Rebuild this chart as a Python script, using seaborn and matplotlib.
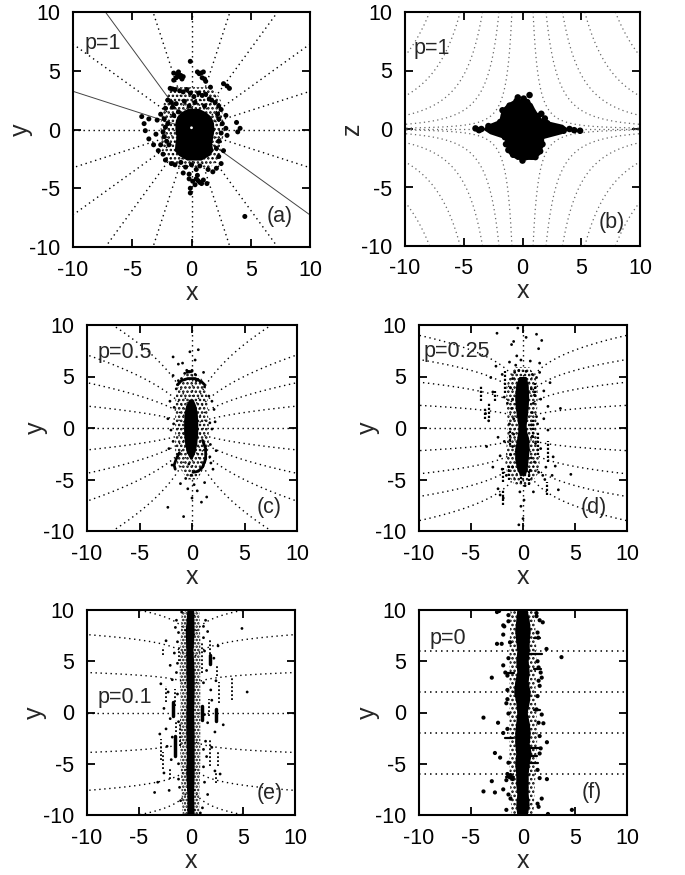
import numpy as np
import matplotlib
matplotlib.use("Agg")
import matplotlib.pyplot as plt
import seaborn as sns
import pandas as pd

sns.set_theme(style="ticks")
plt.rcParams['font.family'] = ['Liberation Sans', 'DejaVu Sans']
plt.rcParams['hatch.linewidth'] = 1.2

# ---------------- data ----------------
TICKS = [-10, -5, 0, 5, 10]
TICK_LABELS = ["-10", "-5", "0", "5", "10"]

PANEL_TAGS = ["(a)", "(b)", "(c)", "(d)", "(e)", "(f)"]
P_LABELS = ["p=1", "p=1", "p=0.5", "p=0.25", "p=0.1", "p=0"]
Y_NAMES = ["y", "z", "y", "y", "y", "y"]

# field-line heights where each line meets |x|=10 (seeded every 18 degrees)
A_P, A_Y10 = 1.0, [3.25, 7.27, 13.76, 30.8]
C_P, C_Y10 = 0.5, [2.13, 4.4, 7.1, 11.5]
D_P, D_Y10 = 0.25, [2.2, 4.45, 6.65, 9.0]
E_P, E_Y10 = 0.1, [3.9, 7.6, 10.7, 13.4]
F_Y = [-6.0, -2.0, 2.0, 6.0]
# x-z plane: |x| where each line meets |z|=10
B_XTOP = [0.9, 2.0, 3.4, 5.3, 7.9]
# rays of panel (a) that are drawn as thin solid lines: (sign x, sign y, index)
A_SOLID = [(-1, 1, 2), (-1, 1, 0), (1, -1, 1)]

# dense cores (y rows, left edge, right edge)
A_CORE_Y = [1.8, 1.5, 1.1, 0.6, 0.0, -0.6, -1.2, -1.8, -2.2, -2.6]
A_CORE_L = [-0.3, -0.9, -1.25, -1.4, -1.4, -1.3, -1.4, -1.45, -1.1, -0.4]
A_CORE_R = [0.6, 1.2, 1.65, 1.85, 1.9, 1.8, 1.7, 1.8, 1.5, 0.8]
A_HOLE = [(0.0, 0.15)]
A_HALO_Y = [3.6, 3.0, 2.4, 1.5, 0.5, -0.5, -1.5, -2.5, -3.2]
A_HALO_L = [-1.6, -2.0, -2.3, -2.5, -2.6, -2.6, -2.5, -2.2, -1.4]
A_HALO_R = [1.6, 2.2, 2.5, 2.6, 2.7, 2.7, 2.5, 2.3, 1.6]

B_CORE_Z = [2.6, 2.2, 1.8, 1.3, 0.8, 0.4, 0.0, -0.4, -0.8, -1.3, -1.8, -2.2, -2.6]
B_CORE_L = [-0.6, -1.3, -1.7, -1.9, -2.0, -3.0, -3.4, -2.8, -1.6, -1.4, -1.4, -1.1, -0.5]
B_CORE_R = [0.3, 0.8, 1.0, 1.3, 1.7, 3.4, 3.9, 3.3, 1.8, 1.8, 1.6, 1.4, 1.0]

C_CORE_Y = [2.8, 2.2, 1.5, 0.5, -0.5, -1.5, -2.3, -3.0]
C_CORE_L = [-0.3, -0.6, -0.75, -0.8, -0.8, -0.7, -0.55, -0.2]
C_CORE_R = [0.1, 0.35, 0.5, 0.55, 0.55, 0.45, 0.3, 0.0]
C_HALO_Y = [5.3, 4.5, 3.5, 2.5, 1.5, 0.5, -0.5, -1.5, -2.5, -3.5, -4.3, -5.0]
C_HALO_L = [-0.6, -1.2, -1.5, -1.6, -1.6, -1.6, -1.6, -1.6, -1.6, -1.4, -0.9, -0.4]
C_HALO_R = [0.5, 1.1, 1.4, 1.5, 1.5, 1.6, 1.6, 1.6, 1.5, 1.3, 0.9, 0.5]

D_CORE_Y = [5.0, 4.2, 3.0, 2.0, 1.0, 0.3, -0.3, -1.0, -2.0, -3.0, -4.0, -4.6]
D_CORE_L = [-0.4, -0.7, -0.8, -0.75, -0.6, -0.5, -0.5, -0.6, -0.8, -0.8, -0.6, -0.3]
D_CORE_R = [0.3, 0.5, 0.55, 0.5, 0.4, 0.3, 0.35, 0.55, 0.6, 0.5, 0.4, 0.2]
D_HALO_Y = [5.9, 5.0, 4.0, 2.5, 1.0, -0.5, -2.0, -3.5, -4.5, -5.5]
D_HALO_L = [-0.8, -1.3, -1.6, -1.6, -1.5, -1.5, -1.6, -1.7, -1.5, -0.8]
D_HALO_R = [0.6, 1.2, 1.4, 1.4, 1.3, 1.3, 1.5, 1.6, 1.4, 0.7]

E_CORE_Y = [10, 8, 6, 4, 2, 0, -2, -4, -6, -8, -10]
E_CORE_L = [-0.4, -0.55, -0.5, -0.5, -0.45, -0.5, -0.5, -0.45, -0.5, -0.4, -0.4]
E_CORE_R = [0.25, 0.3, 0.2, 0.3, 0.3, 0.25, 0.3, 0.3, 0.3, 0.25, 0.3]
E_HALO_Y = [10, 7, 4, 1, -2, -5, -8, -10]
E_HALO_L = [-0.9, -1.0, -1.1, -1.0, -1.1, -1.0, -0.9, -0.8]
E_HALO_R = [0.8, 0.9, 0.9, 0.9, 0.9, 0.9, 0.8, 0.8]

F_CORE_Y = [10, 9, 8, 7, 6, 5, 4, 3, 2, 1, 0, -1, -2, -3, -4, -5, -6, -7, -8, -9, -10]
F_CORE_L = [-0.6, -0.7, -0.8, -0.7, -0.6, -0.7, -0.6, -0.8, -0.9, -0.7, -0.6,
            -0.7, -0.8, -0.8, -0.7, -0.8, -0.7, -0.7, -0.6, -0.7, -0.6]
F_CORE_R = [0.4, 0.6, 0.7, 0.6, 0.6, 0.5, 0.6, 0.5, 0.7, 0.6, 0.4,
            0.6, 0.7, 0.6, 0.8, 0.6, 0.5, 0.5, 0.5, 0.6, 0.4]
F_HALO_Y = [10, 6, 2, -2, -6, -10]
F_HALO_L = [-1.2, -1.3, -1.3, -1.3, -1.3, -1.1]
F_HALO_R = [1.1, 1.3, 1.2, 1.4, 1.2, 1.0]

# scattered particles
A_DOTS = [(-1.5, 4.8), (-1.2, 4.7), (-0.9, 4.6), (-1.3, 4.4), (-0.7, 4.5), (-1.5, 4.2),
          (-1.1, 4.9), (-0.8, 4.3), (-1.0, 4.5), (0.5, 4.9), (0.8, 4.8), (1.0, 4.9),
          (0.65, 4.75), (-0.1, 5.8), (0.9, 4.4), (1.2, 4.1), (1.1, 4.3), (2.7, 3.9),
          (3.0, 3.7), (3.2, 3.5), (1.6, 3.6), (-1.8, 3.5), (-1.4, 3.4), (-1.6, 3.45),
          (-1.0, 3.3), (-0.7, 3.2), (-0.4, 3.4), (-0.1, 3.1), (0.2, 2.8), (0.6, 3.1),
          (0.9, 2.9), (1.2, 3.0), (1.5, 2.6), (1.7, 2.5), (-2.0, 2.5), (-1.7, 2.3),
          (-1.3, 2.2), (-0.6, 2.4), (0.3, 2.3), (2.0, 2.3), (2.3, 2.0), (2.5, 1.7),
          (-2.2, 1.8), (-1.6, 1.9), (-4.2, 1.1), (-4.0, 0.5), (-3.9, -0.1), (-3.6, -0.8),
          (-3.6, 0.9), (-2.6, 1.3), (-2.3, 0.9), (-2.0, 0.5), (-2.2, 0.2), (-2.4, -0.2),
          (-2.3, -0.6), (-2.1, -1.0), (-1.9, -1.3), (-3.0, -0.4), (-3.2, -1.3), (-2.8, -1.8),
          (-2.4, -2.1), (-2.2, -2.6), (-1.7, -2.9), (-1.4, -3.0), (2.3, 0.9), (2.6, 0.5),
          (2.9, 0.1), (2.5, -0.3), (3.0, -0.5), (2.3, -1.0), (3.8, 0.6), (4.1, 0.1),
          (3.9, -0.2), (2.1, -1.6), (2.3, -2.3), (2.5, -2.9), (2.1, -3.3), (1.8, -3.6),
          (-0.9, -2.8), (-0.5, -3.2), (0.0, -3.0), (0.4, -3.4), (0.7, -3.1), (-0.7, -3.7),
          (-0.2, -3.8), (0.5, -3.9), (1.4, -3.4), (-0.2, -4.2), (0.1, -4.4), (0.4, -4.2),
          (0.7, -4.5), (1.0, -4.3), (1.3, -4.6), (0.3, -4.7), (0.55, -4.35), (0.85, -4.6),
          (-0.1, -5.0), (-0.1, -5.4), (4.5, -7.4), (-1.1, 1.5), (-1.5, 1.2), (2.2, 1.3),
          (1.1, 2.0), (-0.2, 2.0), (-2.6, -1.3), (2.7, -1.8), (-2.9, 0.8), (2.9, 1.2)]

B_DOTS = [(-0.5, 2.4), (0.1, 2.6), (0.4, 2.3), (0.6, 2.9), (-1.1, 2.0), (-0.8, 1.7),
          (-1.5, 1.3), (-1.2, 0.9), (0.9, 1.2), (1.3, 1.1), (1.6, 1.3), (1.9, 0.9),
          (-4.0, 0.05), (-3.7, -0.1), (-3.5, 0.0), (-2.9, 0.25), (-2.5, 0.1), (-2.1, -0.1),
          (2.4, 0.25), (3.0, 0.1), (3.5, -0.15), (4.0, 0.0), (4.4, -0.1), (4.9, -0.15),
          (-1.5, -0.7), (-1.4, -1.3), (-1.2, -1.8), (1.6, -0.7), (1.7, -1.3), (1.5, -1.9),
          (-0.3, -2.1), (0.3, -2.4), (0.8, -2.35), (1.1, -2.4), (1.3, -2.0), (-0.8, -2.2),
          (-1.7, 1.6), (-1.9, 0.6), (2.1, 0.5), (0.0, -2.7), (-0.4, 2.7)]

C_DOTS = [(-0.5, 5.6), (-0.3, 5.5), (0.0, 5.6), (-0.7, 5.3), (0.3, 5.2), (-1.0, 4.8),
          (-1.3, 4.6), (0.4, 4.6), (0.8, 4.5), (1.2, 4.0), (-1.5, 3.8), (1.6, 3.1),
          (1.9, 2.6), (-1.7, 2.0), (1.7, 0.5), (-1.75, 0.4), (-1.8, -1.3), (1.75, -1.6),
          (1.7, -2.8), (-0.3, -3.5), (1.8, -3.4), (2.0, -4.0), (-1.9, -3.6), (-0.1, -4.6),
          (0.2, -5.5), (-0.4, -5.9), (0.5, -6.1), (1.4, -6.7), (-2.3, -7.7), (0.9, -7.2),
          (-0.6, -4.9), (1.9, -0.1), (2.2, 0.6), (-2.0, -0.2), (-2.3, 0.9), (0.6, 7.6),
          (-1.8, 6.9), (-0.9, 6.3), (-1.3, 6.2), (0.3, 6.6), (-0.2, 7.4), (1.1, 5.4),
          (-1.8, 5.1), (2.1, 1.8), (-2.1, 2.6), (2.3, -2.2), (-2.2, -2.0), (1.2, -5.3),
          (-1.1, -5.4), (0.0, -6.8), (-0.8, -8.6)]
C_ARCS = [[(-1.4, 4.2), (-1.0, 4.6), (-0.4, 4.8), (0.3, 4.8), (0.9, 4.5), (1.2, 4.2)],
          [(-1.2, -2.4), (-1.5, -3.0), (-1.7, -3.6), (-1.6, -4.0)],
          [(0.1, -4.3), (0.6, -4.2), (1.0, -3.8), (1.3, -3.0), (1.3, -2.0), (1.0, -1.2)],
          [(-0.5, 5.4), (0.0, 5.5)]]

D_DOTS = [(-1.0, 4.8), (-0.8, 5.4), (-0.4, 5.6), (0.3, 5.5), (0.9, 5.2), (1.3, 4.9),
          (1.6, 5.4), (-1.2, 3.9), (0.8, 3.8), (1.1, 3.2), (-1.0, 2.8), (1.0, 2.4),
          (-1.1, 1.9), (0.9, 1.5), (1.3, 1.1), (-0.9, 0.9), (-1.3, 0.4), (0.8, 0.3),
          (-0.9, -0.6), (0.9, -0.8), (1.2, -1.5), (-1.0, -1.8), (-1.2, -2.6), (0.8, -2.9),
          (1.1, -3.3), (-1.0, -3.8), (0.7, -4.1), (1.5, -4.3), (-1.6, -4.6), (0.2, -5.6),
          (-0.3, -6.2), (0.1, -7.0), (-0.2, -7.6), (1.0, -6.2), (-1.9, -6.8), (-2.4, -5.9),
          (-2.2, -6.5), (2.1, -5.0), (2.8, -4.6), (3.1, -3.7), (4.6, -4.5), (3.4, -6.0),
          (2.4, -0.2), (2.0, 0.9), (2.4, 2.1), (2.0, 3.6), (2.6, 4.4), (1.6, 6.3),
          (1.5, 7.7), (-1.1, 8.1), (-2.5, 9.2), (0.3, 8.8), (-0.6, 7.0), (-1.3, 6.4),
          (-2.6, 6.0), (-2.0, 5.2), (-3.1, 4.9), (-2.9, 3.5), (-3.6, 1.4), (-3.3, 0.7),
          (-2.4, -0.9), (-3.5, -1.8), (-2.2, -2.7), (-2.9, -3.8), (-1.8, -1.3), (1.7, -2.0),
          (2.9, -2.8), (3.6, 1.9), (-0.5, 9.7), (0.0, -8.8), (-0.4, -9.4), (1.8, 8.5),
          (1.3, 9.1), (-0.9, 8.4), (0.7, 6.5), (-0.7, 6.1), (-1.5, 2.4), (1.4, 0.4),
          (2.2, -3.8), (1.9, -4.6), (-2.0, -4.0), (-1.8, 3.0), (1.7, 2.8), (-0.2, 6.6)]
D_STREAKS = [(-1.74, 3.4, 5.5), (-4.0, 2.6, 4.2), (-3.3, 1.0, 2.5), (-3.66, 0.9, 2.0),
             (-1.25, -1.65, 0.0), (1.48, -2.6, -0.35), (2.44, -3.3, -1.3), (1.0, -1.0, 1.0),
             (-1.9, -5.2, -3.9), (-1.3, -5.0, -3.6), (-0.2, -5.3, -4.0), (0.6, -5.5, -4.2),
             (2.3, -6.5, -5.2), (-1.9, -7.5, -5.9), (1.2, 3.0, 4.4), (-2.7, 2.6, 3.6)]

E_DOTS = [(-1.4, 9.0), (1.4, 9.0), (-1.5, 8.3), (1.6, 7.9), (-1.3, 6.9), (1.3, 6.0),
          (-1.6, 5.8), (2.2, 5.3), (-2.0, 4.6), (1.5, 4.1), (-1.4, 3.9), (2.4, 3.1),
          (-1.8, 3.2), (1.9, 2.2), (-2.2, 2.0), (2.0, 1.2), (-1.3, 1.8), (-2.6, 0.4),
          (1.3, -0.2), (-2.0, -0.6), (1.6, -1.0), (-2.4, -1.6), (2.3, -1.9), (-1.8, -2.4),
          (1.4, -2.8), (-2.3, -3.3), (2.0, -3.4), (-1.9, -4.6), (1.5, -4.3), (-2.6, -5.9),
          (2.3, -5.7), (-1.2, -6.5), (1.3, -6.8), (-2.1, -7.6), (-3.5, -7.8), (1.6, -8.0),
          (-1.0, -8.6), (1.1, -9.3), (4.9, 8.2), (5.4, 2.0), (-3.2, -6.8), (2.8, -6.0),
          (-1.2, 7.8), (1.2, 7.3), (-1.3, 4.8), (1.2, 2.9), (-1.2, -0.9), (1.2, -3.6),
          (-1.2, -5.0), (1.2, -5.3), (-1.1, -7.3), (1.2, 8.4), (-2.4, 7.0), (2.6, 6.5),
          (-2.9, 2.8), (3.1, -1.2), (-3.0, -2.1), (0.9, -9.8), (-0.9, 9.8)]
E_STREAKS = [(1.83, 4.9, 7.1), (1.1, 3.9, 6.8), (2.5, 3.6, 4.5), (-1.55, 0.6, 2.3),
             (-2.4, 1.0, 2.6), (-1.4, -1.9, -0.7), (-1.1, -3.3, -1.0), (-2.7, -5.5, -3.9),
             (-2.9, -4.6, -2.6), (1.7, -0.3, 1.3), (1.8, -5.2, -2.6), (2.6, -5.2, -3.9),
             (2.4, -6.9, -5.9), (-2.0, -6.5, -5.5), (3.9, 1.2, 3.5), (-1.2, 5.0, 6.6),
             (-2.7, 5.6, 6.4), (2.7, 0.9, 3.0)]
E_BARS = [(1.83, 4.7, 5.6), (-1.75, -0.35, 1.0), (-1.55, -4.2, -2.3), (2.4, -0.8, 0.3),
          (1.1, -0.7, 0.6)]

F_DOTS = [(-2.5, 9.8), (-2.3, 9.9), (-1.9, 8.5), (-1.8, 8.4), (-1.9, 7.6), (-2.5, 6.7),
          (-2.05, 6.7), (-1.25, 6.85), (1.3, 9.4), (1.9, 8.8), (1.6, 9.0), (1.47, 7.3),
          (2.26, 6.2), (1.5, 4.4), (1.7, 3.9), (1.8, 3.4), (1.6, 2.6),
          (3.7, 5.4), (-1.9, 4.6), (-3.0, 3.4), (-1.6, 0.9), (-1.4, -0.1), (-3.8, -0.5),
          (-2.4, -1.0), (-1.9, -2.0), (-2.7, -3.95), (-2.2, -4.4), (-1.3, -6.3), (-1.0, -6.5),
          (-1.5, -6.0), (-3.0, -6.7), (-1.9, -7.5), (-1.2, -8.4), (-2.7, -7.8), (-3.8, -7.7),
          (-1.6, -9.5), (1.5, -1.0), (1.96, -1.05), (1.3, 0.3), (1.8, -0.2), (2.3, -6.5),
          (1.6, -6.4), (1.8, -8.4), (1.5, -9.2), (2.4, -9.9), (1.6, -2.3),
          (2.3, -2.9), (4.7, -9.5), (-1.5, 2.2), (-1.4, 5.3), (1.4, 5.0), (1.4, 7.8),
          (-1.4, 8.9), (1.4, -5.6), (-1.4, -4.9), (1.4, 1.6), (-1.5, 1.3), (1.4, -8.9),
          (-1.4, -8.0), (1.3, 9.7), (-1.4, 9.5), (1.5, 3.1), (-1.5, -1.6), (-1.6, -6.6),
          (-1.2, -6.1), (-1.7, 3.9), (-1.5, 3.6), (1.6, -4.0), (1.7, -3.5)]
F_DASHES = [(5.7, 0.6, 1.8), (-3.5, 0.6, 1.6), (-4.2, 0.6, 1.3), (-4.9, 0.6, 1.4),
            (3.9, -1.6, -0.9), (-2.5, -1.7, -1.0), (-6.3, -1.6, -0.9), (7.3, 1.1, 1.6),
            (4.2, 1.1, 1.7), (0.2, 1.1, 1.6)]

# panel frames in pixels: left, right, top, bottom; y-label offset in axes units
FRAMES = [(73, 310, 12, 247), (405, 640, 12, 246), (87, 297, 325, 531),
          (419, 627, 325, 531), (87, 295, 610, 815), (419, 627, 610, 815)]
YLABEL_X = [-0.218, -0.225, -0.245, -0.245, -0.25, -0.245]
P_POS = [(-9.0, 7.3), (-9.3, 6.9), (-9.0, 7.3), (-9.6, 7.4), (-9.0, 1.5), (-9.0, 7.2)]
TAG_POS = [(6.3, -7.4), (6.5, -8.0), (6.2, -7.7), (5.5, -7.7), (6.3, -7.9), (5.6, -7.8)]

# ---------------- drawing ----------------
W, H = 685, 875
fig = plt.figure(figsize=(W / 100, H / 100), dpi=100)
DOT = (0, (1, 2.6))
R = np.concatenate([np.geomspace(1e-7, 1, 400), np.linspace(1, 10, 300)[1:]])


def make_ax(i):
    l, r, t, b = FRAMES[i]
    ax = fig.add_axes([l / W, 1 - b / H, (r - l) / W, (b - t) / H])
    ax.set_xlim(-10, 10)
    ax.set_ylim(-10, 10)
    ax.set_xticks(TICKS)
    ax.set_yticks(TICKS)
    ax.set_xticklabels(TICK_LABELS)
    ax.set_yticklabels(TICK_LABELS)
    ax.tick_params(direction='in', top=True, right=True, length=6, width=1.3,
                   labelsize=15.5, pad=9, colors='black')
    for s in ax.spines.values():
        s.set_linewidth(1.5)
        s.set_color('black')
        s.set_zorder(10)
    ax.set_xlabel("x", fontsize=18, labelpad=0)
    ax.set_ylabel(Y_NAMES[i], fontsize=18, va='center')
    ax.yaxis.set_label_coords(YLABEL_X[i], 0.5)
    ax.set_facecolor('white')
    return ax


def power_lines(ax, p, y10s, solid=(), color='black', lw=1.0):
    for k, y10 in enumerate(y10s):
        for sx in (-1, 1):
            for sy in (-1, 1):
                xs = sx * R
                ys = sy * y10 * (R / 10.0) ** p
                if (sx, sy, k) in solid:
                    ax.plot(xs, ys, color='#444444', lw=0.7, zorder=1)
                else:
                    ax.plot(xs, ys, color=color, lw=lw, linestyle=DOT, zorder=1)
    ax.axhline(0, color=color, lw=lw, linestyle=DOT, zorder=1)
    ax.axvline(0, color=color, lw=lw, linestyle=DOT, zorder=1)


def core(ax, ys, ls, rs):
    ax.fill_betweenx(ys, ls, rs, color='black', lw=0, zorder=3)


def halo(ax, ys, ls, rs, hatch):
    ax.fill_betweenx(ys, ls, rs, facecolor='none', edgecolor='black', hatch=hatch,
                     lw=0, zorder=2)


def dots(ax, pts, s, color='black'):
    df = pd.DataFrame(pts, columns=['x', 'y'])
    sns.scatterplot(data=df, x='x', y='y', s=s, color=color, edgecolor='none',
                    linewidth=0, ax=ax, zorder=4, legend=False)


def streaks(ax, segs, lw, style):
    for x, y0, y1 in segs:
        ax.plot([x, x], [y0, y1], color='black', lw=lw, linestyle=style, zorder=4)


axes = [make_ax(i) for i in range(6)]

# (a)
ax = axes[0]
power_lines(ax, A_P, A_Y10, solid=A_SOLID)
halo(ax, A_HALO_Y, A_HALO_L, A_HALO_R, '....')
core(ax, A_CORE_Y, A_CORE_L, A_CORE_R)
dots(ax, A_DOTS, 13)
dots(ax, A_HOLE, 4, color='white')

# (b)
ax = axes[1]
for xt in B_XTOP:
    xs = np.linspace(xt, 10, 300)
    for sx in (-1, 1):
        for sz in (-1, 1):
            ax.plot(sx * xs, sz * 10.0 * (xt / xs) ** 2, color='#666666', lw=0.9,
                    linestyle=DOT, zorder=1)
ax.axhline(0, color='#666666', lw=0.9, linestyle=DOT, zorder=1)
core(ax, B_CORE_Z, B_CORE_L, B_CORE_R)
dots(ax, B_DOTS, 22)

# (c)
ax = axes[2]
power_lines(ax, C_P, C_Y10)
halo(ax, C_HALO_Y, C_HALO_L, C_HALO_R, '....')
core(ax, C_CORE_Y, C_CORE_L, C_CORE_R)
dots(ax, C_DOTS, 4)
for arc in C_ARCS:
    xa, ya = zip(*arc)
    ax.plot(xa, ya, color='black', lw=2.0, zorder=4)

# (d)
ax = axes[3]
power_lines(ax, D_P, D_Y10)
halo(ax, D_HALO_Y, D_HALO_L, D_HALO_R, '....')
core(ax, D_CORE_Y, D_CORE_L, D_CORE_R)
dots(ax, D_DOTS, 4)
streaks(ax, D_STREAKS, 1.6, (0, (1, 0.8)))

# (e)
ax = axes[4]
power_lines(ax, E_P, E_Y10)
halo(ax, E_HALO_Y, E_HALO_L, E_HALO_R, '.....')
core(ax, E_CORE_Y, E_CORE_L, E_CORE_R)
dots(ax, E_DOTS, 4)
streaks(ax, E_STREAKS, 1.3, (0, (1, 1.2)))
streaks(ax, E_BARS, 2.5, '-')

# (f)
ax = axes[5]
for yv in F_Y:
    ax.axhline(yv, color='black', lw=1.1, linestyle=DOT, zorder=1)
halo(ax, F_HALO_Y, F_HALO_L, F_HALO_R, '....')
core(ax, F_CORE_Y, F_CORE_L, F_CORE_R)
dots(ax, F_DOTS, 9)
for yv, x0, x1 in F_DASHES:
    ax.plot([x0, x1], [yv, yv], color='black', lw=1.6, zorder=4)

for i, ax in enumerate(axes):
    ax.text(P_POS[i][0], P_POS[i][1], P_LABELS[i], fontsize=15.5, ha='left', va='center',
            zorder=6)
    ax.text(TAG_POS[i][0], TAG_POS[i][1], PANEL_TAGS[i], fontsize=15.5, ha='left',
            va='center', zorder=6)

fig.savefig("out.png", dpi=100)
